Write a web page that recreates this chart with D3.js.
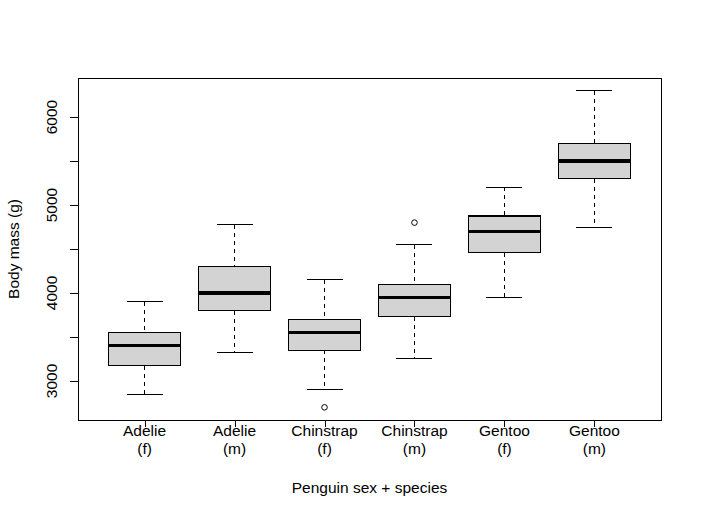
<!DOCTYPE html>
<html>
<head>
<meta charset="utf-8">
<script src="https://cdn.jsdelivr.net/npm/d3@7"></script>
<style>
  body { margin: 0; background: #ffffff; }
  text { font-family: "Liberation Sans", Arial, sans-serif; font-size: 15.5px; fill: #000000; }
  line, rect { shape-rendering: crispEdges; }
</style>
</head>
<body>
<div id="chart"></div>
<script>

// DATA
var species = ["Adelie", "Adelie", "Chinstrap", "Chinstrap", "Gentoo", "Gentoo"];
var sexes = ["(f)", "(m)", "(f)", "(m)", "(f)", "(m)"];
var whiskerLow = [2850, 3325, 2900, 3250, 3950, 4750];
var q1 = [3175, 3800, 3350, 3730, 4460, 5300];
var medians = [3400, 4000, 3550, 3950, 4700, 5500];
var q3 = [3550, 4300, 3700, 4100, 4875, 5700];
var whiskerHigh = [3900, 4775, 4150, 4550, 5200, 6300];
var outliers = [[], [], [2700], [4800], [], []];
var yTicks = [3000, 3500, 4000, 4500, 5000, 5500, 6000];
var yTickLabels = [3000, 4000, 5000, 6000];

// SET UP CHART
var svgWidth = 702;
var svgHeight = 518;

var margin = {
  top: 78,
  right: 41,
  bottom: 98,
  left: 78
};

var chartWidth = svgWidth - margin.left - margin.right;
var chartHeight = svgHeight - margin.top - margin.bottom;

var svg = d3.select("#chart")
  .append("svg")
  .attr("width", svgWidth)
  .attr("height", svgHeight);

var chartGroup = svg.append("g")
  .attr("transform", `translate(${margin.left}, ${margin.top})`);

// SCALES - R style, 4% padding each side
var xScale = d3.scaleLinear()
  .domain([0.26, 6.74])
  .range([0, chartWidth]);

var yScale = d3.scaleLinear()
  .domain([2556, 6444])
  .range([chartHeight, 0]);

var boxHalf = xScale(1.4) - xScale(1);
var capHalf = boxHalf / 2;

// AXES
var leftAxis = d3.axisLeft(yScale)
  .tickValues(yTicks)
  .tickSize(8)
  .tickFormat("");

var yAxis = chartGroup.append("g")
  .call(leftAxis);
yAxis.select(".domain").remove();
yAxis.selectAll("line").attr("stroke", "#000");

var bottomAxis = d3.axisBottom(xScale)
  .tickValues(d3.range(1, 7))
  .tickSize(7)
  .tickFormat("");

var xAxis = chartGroup.append("g")
  .attr("transform", `translate(0, ${chartHeight})`)
  .call(bottomAxis);
xAxis.select(".domain").remove();
xAxis.selectAll("line").attr("stroke", "#000");

// y tick labels, rotated like R
chartGroup.selectAll(".ylab")
  .data(yTickLabels)
  .enter()
  .append("text")
  .attr("class", "ylab")
  .attr("transform", d => `translate(-21.5, ${yScale(d)}) rotate(-90)`)
  .attr("text-anchor", "middle")
  .text(d => d);

// x tick labels (two lines)
var xLabels = chartGroup.selectAll(".xlab")
  .data(species)
  .enter()
  .append("text")
  .attr("class", "xlab")
  .attr("text-anchor", "middle")
  .attr("transform", (d, i) => `translate(${xScale(i + 1)}, ${chartHeight + 16})`);

xLabels.append("tspan")
  .attr("x", 0)
  .attr("y", 0)
  .text(d => d);

xLabels.append("tspan")
  .attr("x", 0)
  .attr("y", 18)
  .text((d, i) => sexes[i]);

// BOXES
var boxes = chartGroup.selectAll(".box")
  .data(medians)
  .enter()
  .append("g")
  .attr("class", "box");

// dashed whiskers
boxes.append("line")
  .attr("x1", (d, i) => xScale(i + 1))
  .attr("x2", (d, i) => xScale(i + 1))
  .attr("y1", (d, i) => yScale(whiskerHigh[i]))
  .attr("y2", (d, i) => yScale(q3[i]))
  .attr("stroke", "#000")
  .attr("stroke-dasharray", "4,4");

boxes.append("line")
  .attr("x1", (d, i) => xScale(i + 1))
  .attr("x2", (d, i) => xScale(i + 1))
  .attr("y1", (d, i) => yScale(q1[i]))
  .attr("y2", (d, i) => yScale(whiskerLow[i]))
  .attr("stroke", "#000")
  .attr("stroke-dasharray", "4,4");

// whisker caps
boxes.append("line")
  .attr("x1", (d, i) => xScale(i + 1) - capHalf)
  .attr("x2", (d, i) => xScale(i + 1) + capHalf)
  .attr("y1", (d, i) => yScale(whiskerHigh[i]))
  .attr("y2", (d, i) => yScale(whiskerHigh[i]))
  .attr("stroke", "#000");

boxes.append("line")
  .attr("x1", (d, i) => xScale(i + 1) - capHalf)
  .attr("x2", (d, i) => xScale(i + 1) + capHalf)
  .attr("y1", (d, i) => yScale(whiskerLow[i]))
  .attr("y2", (d, i) => yScale(whiskerLow[i]))
  .attr("stroke", "#000");

// the box itself
boxes.append("rect")
  .attr("x", (d, i) => xScale(i + 1) - boxHalf)
  .attr("width", boxHalf * 2)
  .attr("y", (d, i) => yScale(q3[i]))
  .attr("height", (d, i) => yScale(q1[i]) - yScale(q3[i]))
  .attr("fill", "#d3d3d3")
  .attr("stroke", "#000")
  .attr("stroke-width", 1.2);

// median line
boxes.append("line")
  .attr("x1", (d, i) => xScale(i + 1) - boxHalf)
  .attr("x2", (d, i) => xScale(i + 1) + boxHalf)
  .attr("y1", d => yScale(d))
  .attr("y2", d => yScale(d))
  .attr("stroke", "#000")
  .attr("stroke-width", 3.2);

// outliers
outliers.forEach(function(pts, i) {
  chartGroup.selectAll(".out" + i)
    .data(pts)
    .enter()
    .append("circle")
    .attr("cx", xScale(i + 1))
    .attr("cy", d => yScale(d))
    .attr("r", 2.8)
    .attr("fill", "none")
    .attr("stroke", "#000");
});

// PLOT FRAME
chartGroup.append("rect")
  .attr("x", 0)
  .attr("y", 0)
  .attr("width", chartWidth)
  .attr("height", chartHeight)
  .attr("fill", "none")
  .attr("stroke", "#000");

// AXIS TITLES
chartGroup.append("text")
  .attr("transform", `translate(${19 - margin.left}, ${chartHeight / 2}) rotate(-90)`)
  .attr("text-anchor", "middle")
  .text("Body mass (g)");

chartGroup.append("text")
  .attr("x", chartWidth / 2)
  .attr("y", chartHeight + 73)
  .attr("text-anchor", "middle")
  .text("Penguin sex + species");

</script>
</body>
</html>
